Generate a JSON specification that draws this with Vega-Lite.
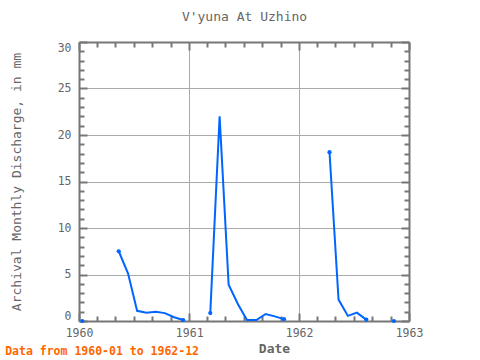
{
  "$schema": "https://vega.github.io/schema/vega-lite/v6.json",
  "autosize": {"type": "none"},
  "width": 330,
  "height": 279,
  "padding": {"left": 79, "top": 42, "right": 71, "bottom": 39},
  "background": "white",
  "config": {
    "font": "DejaVu Sans Mono",
    "view": {"stroke": null},
    "axis": {
      "domainColor": "#777777",
      "domainWidth": 2,
      "tickColor": "#777777",
      "tickWidth": 2,
      "gridColor": "#aaaaaa",
      "gridWidth": 1,
      "labelColor": "#666666",
      "labelFont": "DejaVu Sans Mono",
      "labelFontSize": 11.5,
      "titleColor": "#666666",
      "titleFont": "DejaVu Sans Mono",
      "titleFontSize": 13,
      "titleFontWeight": "normal"
    }
  },
  "title": {
    "text": "Data from 1960-01 to 1962-12",
    "orient": "bottom",
    "anchor": "start",
    "frame": "bounds",
    "color": "#ff6600",
    "font": "DejaVu Sans Mono",
    "fontSize": 11.5,
    "fontWeight": "bold",
    "offset": -9,
    "dx": -5
  },
  "data": {
    "values": [
      {"date": "1960-01-12", "value": 0.0, "seg": 0},
      {"date": "1960-05-12", "value": 7.5, "seg": 1},
      {"date": "1960-06-12", "value": 5.1, "seg": 1},
      {"date": "1960-07-12", "value": 1.1, "seg": 1},
      {"date": "1960-08-12", "value": 0.9, "seg": 1},
      {"date": "1960-09-12", "value": 1.0, "seg": 1},
      {"date": "1960-10-12", "value": 0.85, "seg": 1},
      {"date": "1960-11-12", "value": 0.4, "seg": 1},
      {"date": "1960-12-12", "value": 0.1, "seg": 1},
      {"date": "1961-03-12", "value": 0.85, "seg": 2},
      {"date": "1961-04-12", "value": 22.0, "seg": 2},
      {"date": "1961-05-12", "value": 3.9, "seg": 2},
      {"date": "1961-06-12", "value": 1.8, "seg": 2},
      {"date": "1961-07-12", "value": 0.1, "seg": 2},
      {"date": "1961-08-12", "value": 0.1, "seg": 2},
      {"date": "1961-09-12", "value": 0.75, "seg": 2},
      {"date": "1961-10-12", "value": 0.5, "seg": 2},
      {"date": "1961-11-12", "value": 0.2, "seg": 2},
      {"date": "1962-04-12", "value": 18.15, "seg": 3},
      {"date": "1962-05-12", "value": 2.3, "seg": 3},
      {"date": "1962-06-12", "value": 0.55, "seg": 3},
      {"date": "1962-07-12", "value": 0.9, "seg": 3},
      {"date": "1962-08-12", "value": 0.15, "seg": 3},
      {"date": "1962-11-12", "value": 0.0, "seg": 4}
    ]
  },
  "encoding": {
    "x": {
      "field": "date",
      "type": "temporal",
      "scale": {"domain": [{"year": 1960, "month": 1, "date": 1}, {"year": 1963, "month": 1, "date": 1}]}
    },
    "y": {
      "field": "value",
      "type": "quantitative",
      "scale": {"domain": [0, 30], "nice": false, "zero": false}
    }
  },
  "layer": [
    {
      "mark": {"type": "line", "color": "#0066ff", "strokeWidth": 2, "clip": true},
      "encoding": {
        "detail": {"field": "seg"},
        "x": {
          "field": "date",
          "type": "temporal",
          "axis": {
            "orient": "bottom",
            "title": "Date",
            "titleFontWeight": "bold",
            "titleFontSize": 13,
            "titleX": 195,
            "titleY": 21,
            "titleAlign": "center",
            "titleBaseline": "top",
            "values": [
              {"year": 1960, "month": 1, "date": 1}, {"year": 1960, "month": 3, "date": 1}, {"year": 1960, "month": 5, "date": 1},
              {"year": 1960, "month": 7, "date": 1}, {"year": 1960, "month": 9, "date": 1}, {"year": 1960, "month": 11, "date": 1},
              {"year": 1961, "month": 1, "date": 1}, {"year": 1961, "month": 3, "date": 1}, {"year": 1961, "month": 5, "date": 1},
              {"year": 1961, "month": 7, "date": 1}, {"year": 1961, "month": 9, "date": 1}, {"year": 1961, "month": 11, "date": 1},
              {"year": 1962, "month": 1, "date": 1}, {"year": 1962, "month": 3, "date": 1}, {"year": 1962, "month": 5, "date": 1},
              {"year": 1962, "month": 7, "date": 1}, {"year": 1962, "month": 9, "date": 1}, {"year": 1962, "month": 11, "date": 1},
              {"year": 1963, "month": 1, "date": 1}
            ],
            "labelExpr": "month(datum.value) === 0 ? timeFormat(datum.value, '%Y') : ''",
            "labelPadding": 14,
            "labelFlush": false,
            "labelOverlap": false,
            "tickSize": {"condition": {"test": "month(datum.value) === 0", "value": -8}, "value": -5},
            "grid": true,
            "gridOpacity": {"condition": {"test": "month(datum.value) === 0", "value": 1}, "value": 0}
          }
        },
        "y": {
          "field": "value",
          "type": "quantitative",
          "axis": {
            "orient": "left",
            "title": "Archival Monthly Discharge, in mm",
            "titlePadding": 34,
            "values": [0,1,2,3,4,5,6,7,8,9,10,11,12,13,14,15,16,17,18,19,20,21,22,23,24,25,26,27,28,29,30],
            "labelExpr": "datum.value % 5 === 0 ? datum.label : ''",
            "labelPadding": 16,
            "labelFlush": true,
            "labelOverlap": false,
            "tickSize": {"condition": {"test": "datum.value % 5 === 0", "value": -8}, "value": -5},
            "grid": true,
            "gridOpacity": {"condition": {"test": "datum.value % 5 === 0", "value": 1}, "value": 0}
          }
        }
      }
    },
    {
      "transform": [
        {"window": [{"op": "row_number", "as": "rn"}, {"op": "count", "as": "cnt"}], "groupby": ["seg"], "frame": [null, null]},
        {"filter": "datum.rn === 1 || datum.rn === datum.cnt"}
      ],
      "mark": {"type": "point", "filled": true, "color": "#0066ff", "size": 18, "opacity": 1},
      "encoding": {
        "x": {
          "field": "date",
          "type": "temporal",
          "axis": {
            "orient": "top",
            "title": "V'yuna At Uzhino",
            "titlePadding": 18,
            "titleFontSize": 13,
            "values": [
              {"year": 1960, "month": 1, "date": 1}, {"year": 1960, "month": 3, "date": 1}, {"year": 1960, "month": 5, "date": 1},
              {"year": 1960, "month": 7, "date": 1}, {"year": 1960, "month": 9, "date": 1}, {"year": 1960, "month": 11, "date": 1},
              {"year": 1961, "month": 1, "date": 1}, {"year": 1961, "month": 3, "date": 1}, {"year": 1961, "month": 5, "date": 1},
              {"year": 1961, "month": 7, "date": 1}, {"year": 1961, "month": 9, "date": 1}, {"year": 1961, "month": 11, "date": 1},
              {"year": 1962, "month": 1, "date": 1}, {"year": 1962, "month": 3, "date": 1}, {"year": 1962, "month": 5, "date": 1},
              {"year": 1962, "month": 7, "date": 1}, {"year": 1962, "month": 9, "date": 1}, {"year": 1962, "month": 11, "date": 1},
              {"year": 1963, "month": 1, "date": 1}
            ],
            "labels": false,
            "tickSize": {"condition": {"test": "month(datum.value) === 0", "value": -8}, "value": -5},
            "grid": false
          }
        },
        "y": {
          "field": "value",
          "type": "quantitative",
          "axis": {
            "orient": "right",
            "title": null,
            "values": [0,1,2,3,4,5,6,7,8,9,10,11,12,13,14,15,16,17,18,19,20,21,22,23,24,25,26,27,28,29,30],
            "labels": false,
            "tickSize": {"condition": {"test": "datum.value % 5 === 0", "value": -8}, "value": -5},
            "grid": false
          }
        }
      }
    }
  ],
  "resolve": {"axis": {"x": "independent", "y": "independent"}}
}
